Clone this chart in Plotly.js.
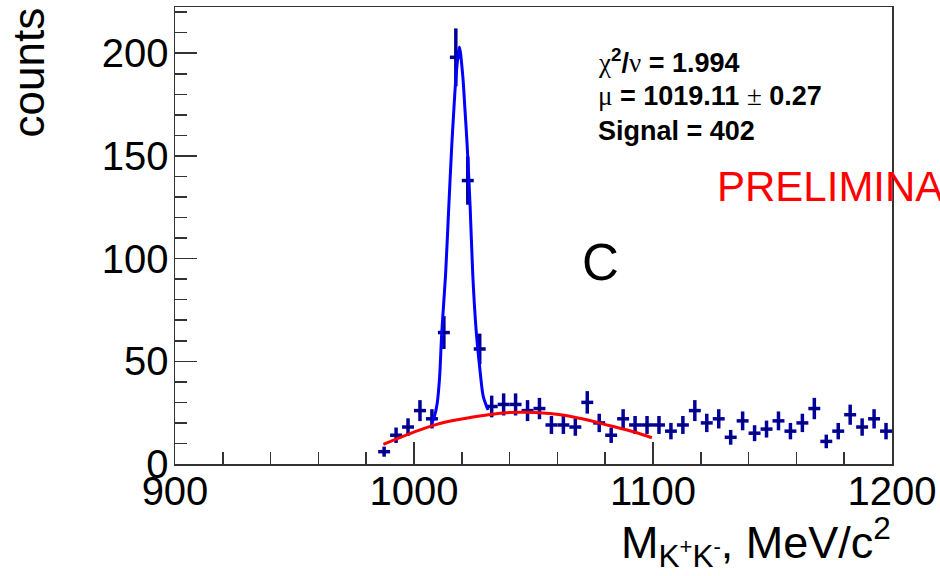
<!DOCTYPE html>
<html>
<head>
<meta charset="utf-8">
<script src="https://cdn.plot.ly/plotly-3.0.1.min.js"></script>
<style>
  html, body { margin: 0; padding: 0; background: #fff; }
  #chart { width: 940px; height: 576px; }
</style>
</head>
<body>
<div id="chart"></div>
<script>
// K+K- invariant mass spectrum, 5 MeV/c^2 bins
const binCenters = [
  987.5, 992.5, 997.5, 1002.5, 1007.5, 1012.5, 1017.5, 1022.5, 1027.5, 1032.5,
  1037.5, 1042.5, 1047.5, 1052.5, 1057.5, 1062.5, 1067.5, 1072.5, 1077.5, 1082.5,
  1087.5, 1092.5, 1097.5, 1102.5, 1107.5, 1112.5, 1117.5, 1122.5, 1127.5, 1132.5,
  1137.5, 1142.5, 1147.5, 1152.5, 1157.5, 1162.5, 1167.5, 1172.5, 1177.5, 1182.5,
  1187.5, 1192.5, 1197.5
];
const counts = [
  6, 14, 18, 26, 22, 64, 198, 138, 56, 28,
  29, 29, 26, 27, 19, 19, 18, 30, 20, 14,
  22, 19, 19, 19, 16, 19, 26, 20, 22, 13,
  21, 15, 17, 21, 16, 20, 27, 11, 16, 24,
  18, 22, 16
];
const binHalfWidth = 2.5;

// Total fit (phi peak + background) along its drawn range
const fitX = [1007.4, 1008.5, 1009.7, 1010.7, 1011.6, 1013.2, 1014.5, 1015.8, 1016.7, 1017.6,
              1019.0, 1020.4, 1021.3, 1022.2, 1023.5, 1024.6, 1026.0, 1027.6, 1029.0, 1031.0];
const fitY = [19.8, 23, 29.5, 42, 63.8, 92, 124, 155, 173, 189,
              203, 189, 173, 156, 125, 92, 65, 45.8, 32.8, 26.3];

// Background component
const bgX = [987.2, 999.7, 1009.5, 1020.0, 1030.4, 1038.8, 1047.2, 1059.7, 1070.8, 1082.0, 1091.8, 1099.5];
const bgY = [9.6, 15.4, 19.3, 21.9, 23.9, 25.0, 25.2, 24.2, 21.9, 18.6, 15.7, 12.8];

// Fit summary
const greek = s => '<span style="font-family:Liberation Serif;font-weight:normal">' + s + '</span>';
const statLines = [
  greek('\u03c7') + '<sup>2</sup>/' + greek('\u03bd') + ' = 1.994',
  greek('\u03bc') + ' = 1019.11 ' + greek('\u00b1') + ' 0.27',
  'Signal = 402'
];

// plot-area geometry in pixels (used to place free text)
const PL = 175, PT = 7, PW = 717, PH = 457;
const px = x => (x - PL) / PW;
const py = y => (PT + PH - y) / PH;

const axisColor = '#333';
const tickFont = { family: 'Liberation Sans, Arial, sans-serif', size: 40, color: '#000' };

const traces = [
  {
    type: 'scatter', mode: 'markers',
    x: binCenters, y: counts,
    marker: { size: 2, color: '#000033' },
    error_x: { type: 'constant', value: binHalfWidth, thickness: 3.5, width: 0, color: '#000099' },
    error_y: { type: 'data', array: counts.map(Math.sqrt), thickness: 3.5, width: 0, color: '#000099' },
    cliponaxis: true,
    hoverinfo: 'x+y'
  },
  {
    type: 'scatter', mode: 'lines',
    x: fitX, y: fitY,
    line: { color: '#0000ff', width: 3, shape: 'spline', smoothing: 0.8 }
  },
  {
    type: 'scatter', mode: 'lines',
    x: bgX, y: bgY,
    line: { color: '#ff0000', width: 3, shape: 'spline', smoothing: 1 }
  }
];

const statAnn = statLines.map((t, i) => ({
  xref: 'paper', yref: 'paper',
  x: px(596), y: py([61, 96, 131][i]),
  xanchor: 'left', yanchor: 'middle',
  text: t, showarrow: false,
  font: { family: 'Liberation Sans, Arial, sans-serif', size: 27, color: '#000', weight: 'bold' }
}));

const layout = {
  width: 940, height: 576,
  margin: { l: PL, r: 940 - PL - PW, t: PT, b: 576 - PT - PH, pad: 0 },
  paper_bgcolor: '#fff', plot_bgcolor: '#fff',
  showlegend: false,
  xaxis: {
    range: [900, 1200], tick0: 900, dtick: 100,
    ticks: 'inside', ticklen: 22, tickwidth: 1.5, tickcolor: axisColor,
    minor: { dtick: 20, ticks: 'inside', ticklen: 12, tickwidth: 1.5, tickcolor: axisColor, showgrid: false },
    showline: true, linecolor: axisColor, linewidth: 1.5, mirror: true,
    showgrid: false, zeroline: false,
    ticklabelstandoff: -9,
    tickfont: tickFont
  },
  yaxis: {
    range: [0, 222.5], tick0: 0, dtick: 50,
    ticks: 'inside', ticklen: 22, tickwidth: 1.5, tickcolor: axisColor,
    minor: { dtick: 10, ticks: 'inside', ticklen: 12, tickwidth: 1.5, tickcolor: axisColor, showgrid: false },
    showline: true, linecolor: axisColor, linewidth: 1.5, mirror: true,
    showgrid: false, zeroline: false,
    ticklabelstandoff: -3,
    tickfont: tickFont
  },
  annotations: statAnn.concat([
    {
      xref: 'paper', yref: 'paper', x: px(715), y: py(186),
      xanchor: 'left', yanchor: 'middle', showarrow: false,
      text: 'PRELIMINARY',
      font: { family: 'Liberation Sans, Arial, sans-serif', size: 42, color: '#ff0000' }
    },
    {
      xref: 'paper', yref: 'paper', x: px(580), y: py(262),
      xanchor: 'left', yanchor: 'middle', showarrow: false,
      text: 'C',
      font: { family: 'Liberation Sans, Arial, sans-serif', size: 51, color: '#000' }
    },
    {
      xref: 'paper', yref: 'paper', x: px(28), y: py(72.5),
      xanchor: 'center', yanchor: 'middle', showarrow: false, textangle: -90,
      text: 'counts',
      font: { family: 'Liberation Sans, Arial, sans-serif', size: 44, color: '#000' }
    },
    {
      xref: 'paper', yref: 'paper', x: px(893), y: py(542),
      xanchor: 'right', yanchor: 'middle', showarrow: false,
      text: 'M<sub>K<sup>+</sup>K<sup>-</sup></sub>, MeV/c<sup>2</sup>',
      font: { family: 'Liberation Sans, Arial, sans-serif', size: 45, color: '#000' }
    }
  ])
};

Plotly.newPlot('chart', traces, layout, { displayModeBar: false, staticPlot: true });
</script>
</body>
</html>
